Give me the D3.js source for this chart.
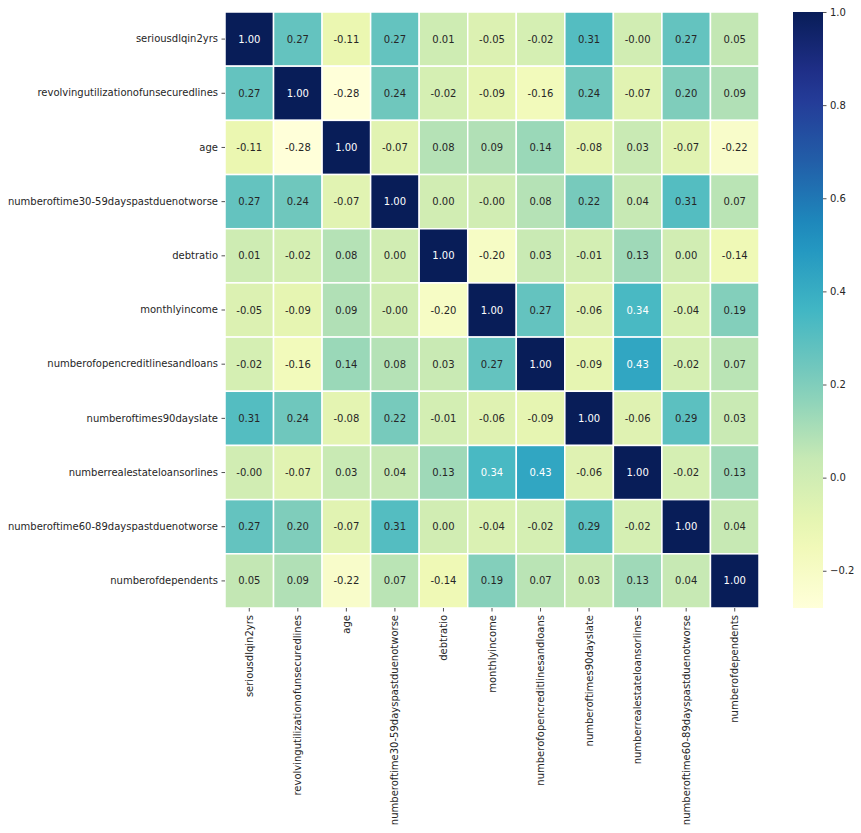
<!DOCTYPE html>
<html>
<head>
<meta charset="utf-8">
<script src="https://cdn.jsdelivr.net/npm/d3@7"></script>
<style>
  body { margin: 0; background: #fff; }
  text { font-family: "DejaVu Sans", sans-serif; fill: #262626; }
</style>
</head>
<body>
<div id="chart"></div>
<script>
// Correlation matrix of the credit dataset
const labels = [
  "seriousdlqin2yrs",
  "revolvingutilizationofunsecuredlines",
  "age",
  "numberoftime30-59dayspastduenotworse",
  "debtratio",
  "monthlyincome",
  "numberofopencreditlinesandloans",
  "numberoftimes90dayslate",
  "numberrealestateloansorlines",
  "numberoftime60-89dayspastduenotworse",
  "numberofdependents"
]

// rows (-0.002 stands for the printed "-0.00")
const row0  = [1.00, 0.27, -0.11, 0.27, 0.01, -0.05, -0.02, 0.31, -0.002, 0.27, 0.05]
const row1  = [0.27, 1.00, -0.28, 0.24, -0.02, -0.09, -0.16, 0.24, -0.07, 0.20, 0.09]
const row2  = [-0.11, -0.28, 1.00, -0.07, 0.08, 0.09, 0.14, -0.08, 0.03, -0.07, -0.22]
const row3  = [0.27, 0.24, -0.07, 1.00, 0.00, -0.002, 0.08, 0.22, 0.04, 0.31, 0.07]
const row4  = [0.01, -0.02, 0.08, 0.00, 1.00, -0.20, 0.03, -0.01, 0.13, 0.00, -0.14]
const row5  = [-0.05, -0.09, 0.09, -0.002, -0.20, 1.00, 0.27, -0.06, 0.34, -0.04, 0.19]
const row6  = [-0.02, -0.16, 0.14, 0.08, 0.03, 0.27, 1.00, -0.09, 0.43, -0.02, 0.07]
const row7  = [0.31, 0.24, -0.08, 0.22, -0.01, -0.06, -0.09, 1.00, -0.06, 0.29, 0.03]
const row8  = [-0.002, -0.07, 0.03, 0.04, 0.13, 0.34, 0.43, -0.06, 1.00, -0.02, 0.13]
const row9  = [0.27, 0.20, -0.07, 0.31, 0.00, -0.04, -0.02, 0.29, -0.02, 1.00, 0.04]
const row10 = [0.05, 0.09, -0.22, 0.07, -0.14, 0.19, 0.07, 0.03, 0.13, 0.04, 1.00]
const rows = [row0, row1, row2, row3, row4, row5, row6, row7, row8, row9, row10]

const cbarTicks = [-0.2, 0.0, 0.2, 0.4, 0.6, 0.8, 1.0]
const vmin = -0.28, vmax = 1.0

// YlGnBu, linear in rgb like matplotlib
const ylgnbu = ["#ffffd9", "#edf8b1", "#c7e9b4", "#7fcdbb", "#41b6c4",
                "#1d91c0", "#225ea8", "#253494", "#081d58"]

const width = 861, height = 833
const hm = {left: 225, right: 759, top: 12, bottom: 608}
const cb = {left: 793, right: 823}

const svg = d3.select("#chart").append("svg")
    .attr("width", width).attr("height", height)

const x = d3.scaleBand().domain(labels).range([hm.left, hm.right])
const y = d3.scaleBand().domain(labels).range([hm.top, hm.bottom])
const color = d3.scaleLinear()
    .domain(ylgnbu.map((c, i) => vmin + (vmax - vmin) * i / (ylgnbu.length - 1)))
    .range(ylgnbu)
    .interpolate(d3.interpolateRgb)
    .clamp(true)

const cells = []
rows.forEach((r, i) => r.forEach((v, j) => cells.push({row: labels[i], col: labels[j], v: v})))

function luminance(c) {
  const rgb = d3.rgb(c)
  const lin = [rgb.r, rgb.g, rgb.b].map(u => {
    u = u / 255
    return u <= 0.03928 ? u / 12.92 : Math.pow((u + 0.055) / 1.055, 2.4)
  })
  return 0.2126 * lin[0] + 0.7152 * lin[1] + 0.0722 * lin[2]
}

const g = svg.append("g")
g.selectAll("rect.cell").data(cells).join("rect")
    .attr("class", "cell")
    .attr("x", d => x(d.col))
    .attr("y", d => y(d.row))
    .attr("width", x.bandwidth())
    .attr("height", y.bandwidth())
    .attr("fill", d => color(d.v))
    .attr("stroke", "#fff")
    .attr("stroke-width", 1.5)

g.selectAll("text.annot").data(cells).join("text")
    .attr("class", "annot")
    .attr("x", d => x(d.col) + x.bandwidth() / 2)
    .attr("y", d => y(d.row) + y.bandwidth() / 2)
    .attr("text-anchor", "middle")
    .attr("dominant-baseline", "central")
    .attr("font-size", 10)
    .style("fill", d => luminance(color(d.v)) > 0.408 ? "#262626" : "#ffffff")
    .text(d => d.v.toFixed(2))

// axes
const yAxis = svg.append("g")
    .attr("transform", `translate(${hm.left},0)`)
    .call(d3.axisLeft(y).tickSize(3.5).tickPadding(3.5))
const xAxis = svg.append("g")
    .attr("transform", `translate(0,${hm.bottom})`)
    .call(d3.axisBottom(x).tickSize(3.5).tickPadding(3.5))

xAxis.selectAll("text")
    .attr("transform", "rotate(-90)")
    .attr("text-anchor", "end")
    .attr("x", -7)
    .attr("y", 0)
    .attr("dy", "0.35em")

;[xAxis, yAxis].forEach(a => {
  a.select(".domain").remove()
  a.selectAll("line").attr("stroke", "#262626").attr("stroke-width", 0.8)
  a.selectAll("text").attr("font-size", 10).attr("font-family", "DejaVu Sans, sans-serif").style("fill", "#262626")
})

// colorbar
const cbScale = d3.scaleLinear().domain([vmin, vmax]).range([hm.bottom, hm.top])
const defs = svg.append("defs")
const grad = defs.append("linearGradient").attr("id", "cbgrad")
    .attr("x1", 0).attr("y1", 1).attr("x2", 0).attr("y2", 0)
grad.selectAll("stop").data(d3.range(0, 1.0001, 0.05)).join("stop")
    .attr("offset", d => d)
    .attr("stop-color", d => color(vmin + d * (vmax - vmin)))

svg.append("rect")
    .attr("x", cb.left).attr("y", hm.top)
    .attr("width", cb.right - cb.left).attr("height", hm.bottom - hm.top)
    .attr("fill", "url(#cbgrad)")

const cbAxis = svg.append("g")
    .attr("transform", `translate(${cb.right},0)`)
    .call(d3.axisRight(cbScale).tickValues(cbarTicks).tickSize(3.5).tickPadding(3.5)
      .tickFormat(d => d3.format(".1f")(d)))
cbAxis.select(".domain").remove()
cbAxis.selectAll("line").attr("stroke", "#262626").attr("stroke-width", 0.8)
cbAxis.selectAll("text").attr("font-size", 10).attr("font-family", "DejaVu Sans, sans-serif").style("fill", "#262626")
</script>
</body>
</html>
